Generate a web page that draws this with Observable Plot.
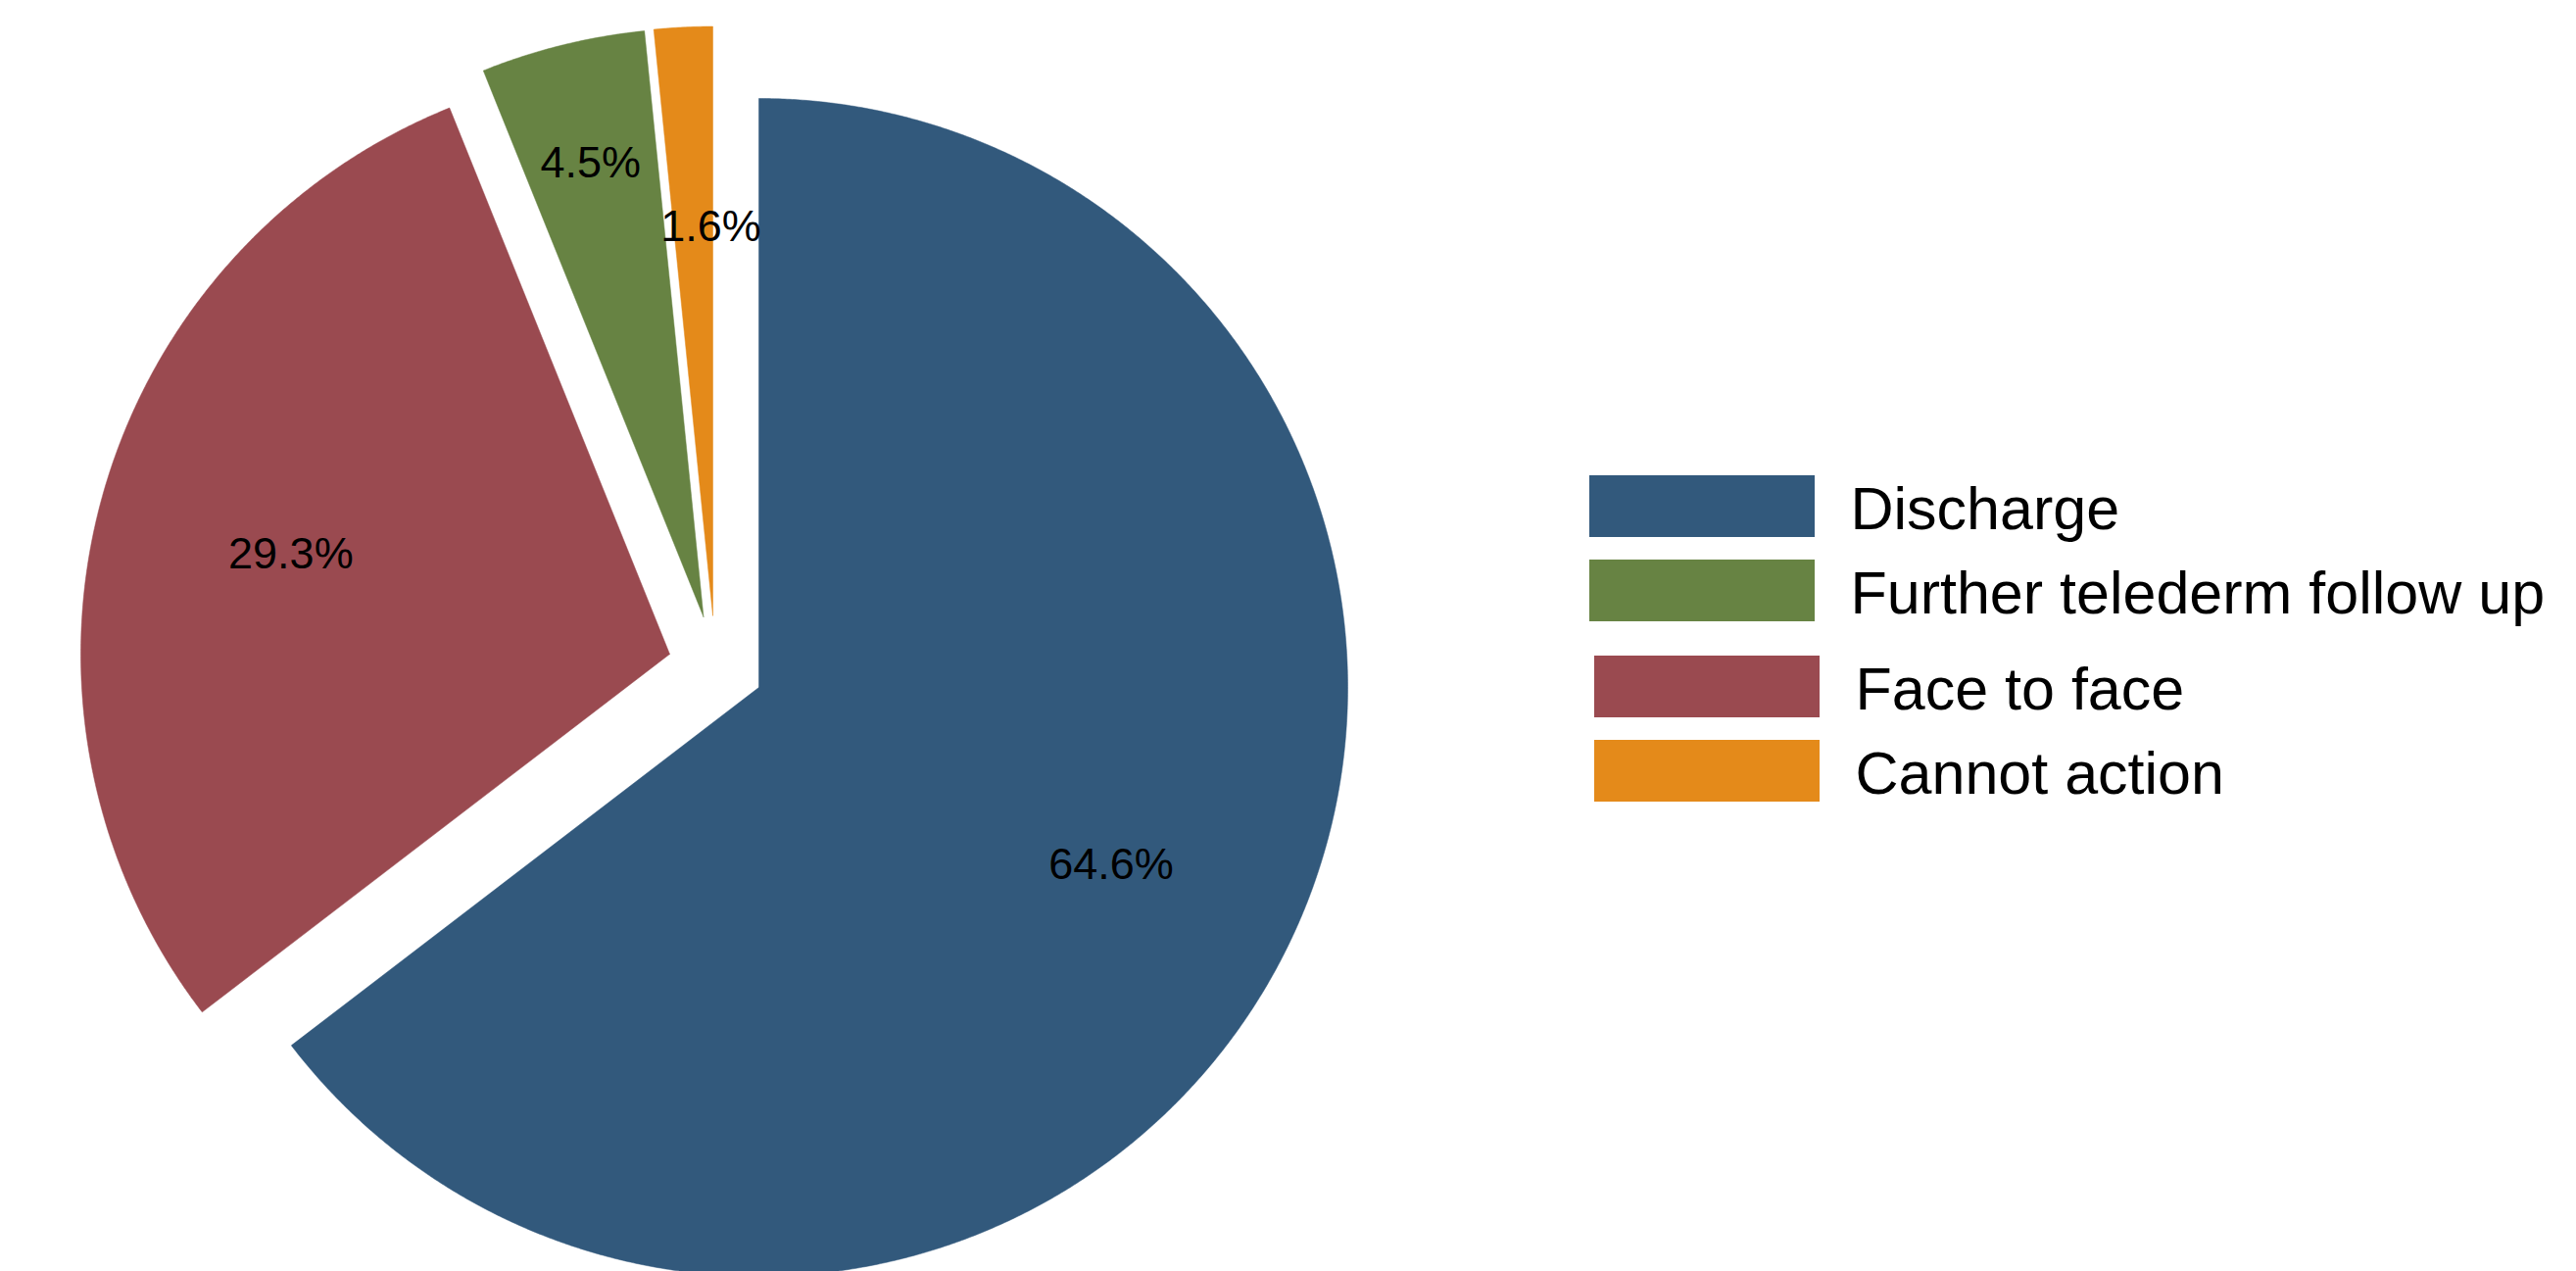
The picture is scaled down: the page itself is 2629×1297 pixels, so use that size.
<!DOCTYPE html>
<html>
<head>
<meta charset="utf-8">
<script src="https://cdn.jsdelivr.net/npm/d3@7"></script>
<script src="https://cdn.jsdelivr.net/npm/@observablehq/plot@0.6"></script>
<style>
  html, body { margin: 0; padding: 0; background: #ffffff; overflow: hidden; }
  #chart svg { display: block; }
</style>
</head>
<body>
<div id="chart"></div>
<script>
// ---------------- data ----------------
const categories = ["Discharge", "Face to face", "Further telederm follow up", "Cannot action"];
const values = [64.6, 29.3, 4.5, 1.6];
const legendOrder = ["Discharge", "Further telederm follow up", "Face to face", "Cannot action"];
const colors = ["#32597C", "#9A4A50", "#678343", "#E48A1A"];

// ---------------- layout / style ----------------
const W = 2629, H = 1297;
const center = [774, 701];
const R = 601;
// explode offsets of each slice (pixels)
const explode = [[0, 0], [-91, -34], [-56.5, -72], [-47, -73.5]];
// label distance from slice apex (fraction of radius) and angular position within the slice
const labelRadius = [0.667, 0.667, 0.8, 0.667];
const labelAngleFrac = [0.5, 0.5, 0.5, 0.95];
const fontFamily = "'Liberation Sans', Arial, Helvetica, sans-serif";

// ---------------- build geometry from values ----------------
const arcs = d3.pie().sort(null).value(d => d)(values);
const polys = [];
const sliceLabels = [];
arcs.forEach((a, i) => {
  const cat = categories[i];
  const ax = center[0] + explode[i][0];
  const ay = center[1] + explode[i][1];
  polys.push({cat, x: ax, y: ay});
  const n = Math.max(4, Math.ceil((a.endAngle - a.startAngle) / (Math.PI / 720)));
  for (let k = 0; k <= n; k++) {
    const t = a.startAngle + (a.endAngle - a.startAngle) * k / n;
    polys.push({cat, x: ax + R * Math.sin(t), y: ay - R * Math.cos(t)});
  }
  polys.push({cat, x: ax, y: ay});
  const m = a.startAngle + (a.endAngle - a.startAngle) * labelAngleFrac[i];
  sliceLabels.push({
    text: d3.format(".1f")(values[i]) + "%",
    x: ax + labelRadius[i] * R * Math.sin(m),
    y: ay - labelRadius[i] * R * Math.cos(m)
  });
});

// legend rows
const legendX = 1622, legendTop = 485, boxW = 230, boxH = 63, rowStep = 86, groupGap = 12, groupShift = 5, textGap = 36;
const legendRows = legendOrder.map((cat, i) => {
  const g = i >= 2 ? 1 : 0;
  const y1 = legendTop + i * rowStep + g * groupGap;
  const x1 = legendX + g * groupShift;
  return {cat, x1, x2: x1 + boxW, y1, y2: y1 + boxH, tx: x1 + boxW + textGap, ty: y1 + boxH / 2 + 3};
});

const chart = Plot.plot({
  width: W,
  height: H,
  margin: 0,
  style: {fontFamily, background: "#ffffff", color: "#000000", overflow: "hidden"},
  x: {domain: [0, W], range: [0, W], axis: null},
  y: {domain: [0, H], range: [0, H], axis: null},
  color: {domain: categories, range: colors},
  marks: [
    Plot.line(polys, {x: "x", y: "y", z: "cat", fill: "cat", stroke: "cat", strokeWidth: 0.5, curve: "linear"}),
    Plot.text(sliceLabels, {x: "x", y: "y", text: "text", fontSize: 45, fill: "#000000", textAnchor: "middle", lineAnchor: "middle", dy: 4}),
    Plot.rect(legendRows, {x1: "x1", x2: "x2", y1: "y1", y2: "y2", fill: "cat"}),
    Plot.text(legendRows, {x: "tx", y: "ty", text: "cat", fontSize: 61, fill: "#000000", textAnchor: "start", lineAnchor: "middle"})
  ]
});
document.getElementById("chart").appendChild(chart);
</script>
</body>
</html>
